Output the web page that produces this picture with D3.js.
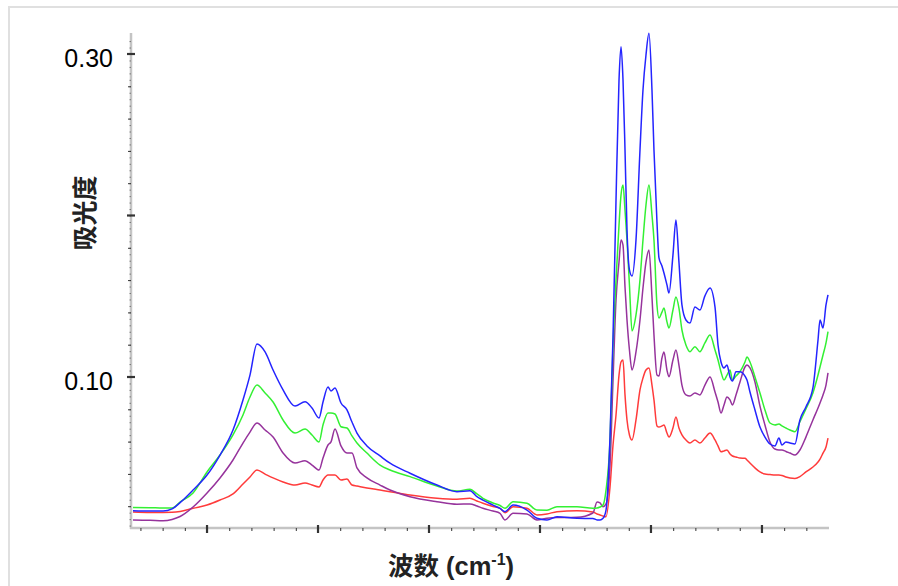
<!DOCTYPE html>
<html>
<head>
<meta charset="utf-8">
<script src="https://cdn.jsdelivr.net/npm/d3@7"></script>
<style>
  body { margin: 0; background: #fff; }
  svg { display: block; }
</style>
</head>
<body>
<div id="chart"></div>
<script>
const width = 898
const height = 586

// x position in major-tick units (axis has no labels)
const wave = [
  0.333, 0.486, 0.604, 0.685, 0.757, 0.874, 1.000, 1.117, 1.234, 1.324,
  1.387, 1.450, 1.523, 1.595, 1.685, 1.793, 1.883, 1.946, 2.009, 2.045,
  2.090, 2.117, 2.153, 2.207, 2.261, 2.306, 2.351, 2.441, 2.559, 2.649,
  2.829, 3.072, 3.252, 3.369, 3.432, 3.486, 3.577, 3.640, 3.685, 3.757,
  3.883, 3.973, 4.063, 4.153, 4.333, 4.477, 4.514, 4.541, 4.568, 4.595,
  4.631, 4.658, 4.685, 4.712, 4.730, 4.748, 4.766, 4.784, 4.806, 4.829,
  4.865, 4.901, 4.928, 4.955, 4.982, 5.009, 5.027, 5.054, 5.072, 5.099,
  5.117, 5.144, 5.162, 5.198, 5.225, 5.252, 5.279, 5.315, 5.351, 5.396,
  5.441, 5.486, 5.532, 5.577, 5.604, 5.631, 5.658, 5.685, 5.712, 5.734,
  5.766, 5.802, 5.847, 5.865, 5.892, 5.937, 5.982, 6.027, 6.072, 6.117,
  6.153, 6.180, 6.216, 6.252, 6.297, 6.342, 6.396, 6.459, 6.505, 6.523,
  6.550, 6.577, 6.595
]

const absBlue = [
  0.0172, 0.0170, 0.0170, 0.0183, 0.0222, 0.0300, 0.0393, 0.0517, 0.0672, 0.0858,
  0.1012, 0.1204, 0.1155, 0.1043, 0.0920, 0.0820, 0.0847, 0.0808, 0.0746, 0.0845,
  0.0938, 0.0913, 0.0932, 0.0839, 0.0796, 0.0721, 0.0653, 0.0573, 0.0511, 0.0466,
  0.0404, 0.0331, 0.0290, 0.0296, 0.0259, 0.0238, 0.0207, 0.0186, 0.0166, 0.0207,
  0.0176, 0.0125, 0.0115, 0.0135, 0.0125, 0.0124, 0.0115, 0.0115, 0.0125, 0.0176,
  0.0628, 0.1248, 0.2096, 0.2839, 0.3045, 0.2839, 0.2406, 0.1910, 0.1663, 0.1625,
  0.1848, 0.2406, 0.2777, 0.2994, 0.3128, 0.2777, 0.2406, 0.1960, 0.1737, 0.1687,
  0.1644, 0.1570, 0.1520, 0.1755, 0.1972, 0.1712, 0.1446, 0.1353, 0.1334, 0.1433,
  0.1415, 0.1502, 0.1551, 0.1433, 0.1198, 0.1093, 0.1056, 0.1074, 0.1000, 0.0975,
  0.1033, 0.1033, 0.1006, 0.0981, 0.0907, 0.0796, 0.0690, 0.0628, 0.0585, 0.0573,
  0.0622, 0.0579, 0.0598, 0.0591, 0.0585, 0.0734, 0.0814, 0.0932, 0.1229, 0.1353,
  0.1303, 0.1446, 0.1508
]

const absGreen = [
  0.0192, 0.0191, 0.0189, 0.0189, 0.0226, 0.0282, 0.0412, 0.0517, 0.0641, 0.0765,
  0.0876, 0.0950, 0.0901, 0.0845, 0.0734, 0.0653, 0.0678, 0.0641, 0.0598, 0.0703,
  0.0777, 0.0777, 0.0771, 0.0692, 0.0684, 0.0635, 0.0591, 0.0529, 0.0455, 0.0424,
  0.0383, 0.0325, 0.0294, 0.0305, 0.0276, 0.0249, 0.0220, 0.0204, 0.0187, 0.0228,
  0.0218, 0.0176, 0.0175, 0.0197, 0.0197, 0.0187, 0.0189, 0.0195, 0.0207, 0.0300,
  0.0610, 0.1198, 0.1601, 0.1941, 0.2127, 0.2189, 0.2034, 0.1848, 0.1570, 0.1285,
  0.1384, 0.1601, 0.1848, 0.2065, 0.2189, 0.2003, 0.1848, 0.1446, 0.1365, 0.1402,
  0.1427, 0.1341, 0.1303, 0.1415, 0.1495, 0.1427, 0.1291, 0.1198, 0.1157, 0.1188,
  0.1157, 0.1211, 0.1260, 0.1167, 0.1105, 0.1031, 0.0981, 0.1012, 0.1043, 0.0981,
  0.1006, 0.1033, 0.1093, 0.1124, 0.1093, 0.1000, 0.0901, 0.0796, 0.0715, 0.0703,
  0.0709, 0.0697, 0.0684, 0.0672, 0.0661, 0.0723, 0.0802, 0.0901, 0.1012, 0.1062,
  0.1136, 0.1211, 0.1281
]

const absPurple = [
  0.0115, 0.0113, 0.0110, 0.0118, 0.0136, 0.0195, 0.0282, 0.0375, 0.0486, 0.0591,
  0.0659, 0.0715, 0.0672, 0.0628, 0.0529, 0.0467, 0.0482, 0.0455, 0.0424, 0.0498,
  0.0579, 0.0598, 0.0678, 0.0573, 0.0529, 0.0529, 0.0437, 0.0375, 0.0331, 0.0300,
  0.0259, 0.0228, 0.0212, 0.0214, 0.0201, 0.0187, 0.0170, 0.0156, 0.0115, 0.0156,
  0.0152, 0.0115, 0.0125, 0.0130, 0.0131, 0.0158, 0.0226, 0.0220, 0.0197, 0.0214,
  0.0455, 0.0981, 0.1477, 0.1712, 0.1848, 0.1817, 0.1557, 0.1353, 0.1167, 0.1043,
  0.1155, 0.1353, 0.1551, 0.1712, 0.1786, 0.1495, 0.1260, 0.1012, 0.1006, 0.1118,
  0.1155, 0.1043, 0.1002, 0.1105, 0.1167, 0.1074, 0.0950, 0.0889, 0.0882, 0.0901,
  0.0889, 0.0950, 0.1000, 0.0907, 0.0845, 0.0777, 0.0827, 0.0876, 0.0858, 0.0827,
  0.0889, 0.0969, 0.1062, 0.1074, 0.1056, 0.0969, 0.0820, 0.0703, 0.0598, 0.0554,
  0.0548, 0.0548, 0.0539, 0.0529, 0.0517, 0.0548, 0.0628, 0.0734, 0.0808, 0.0839,
  0.0889, 0.0950, 0.1025
]

const absRed = [
  0.0164, 0.0161, 0.0161, 0.0162, 0.0167, 0.0187, 0.0207, 0.0238, 0.0276, 0.0337,
  0.0381, 0.0424, 0.0399, 0.0375, 0.0350, 0.0331, 0.0344, 0.0331, 0.0319, 0.0362,
  0.0393, 0.0393, 0.0393, 0.0362, 0.0368, 0.0331, 0.0325, 0.0313, 0.0300, 0.0290,
  0.0269, 0.0249, 0.0243, 0.0249, 0.0232, 0.0218, 0.0198, 0.0187, 0.0160, 0.0197,
  0.0187, 0.0146, 0.0152, 0.0166, 0.0172, 0.0164, 0.0152, 0.0146, 0.0139, 0.0135,
  0.0319, 0.0579, 0.0765, 0.1012, 0.1093, 0.1105, 0.0889, 0.0734, 0.0641, 0.0610,
  0.0734, 0.0920, 0.0994, 0.1043, 0.1056, 0.0950, 0.0858, 0.0697, 0.0690, 0.0697,
  0.0703, 0.0653, 0.0628, 0.0684, 0.0752, 0.0684, 0.0641, 0.0610, 0.0591, 0.0610,
  0.0591, 0.0622, 0.0653, 0.0610, 0.0573, 0.0537, 0.0542, 0.0548, 0.0523, 0.0511,
  0.0505, 0.0498, 0.0497, 0.0486, 0.0467, 0.0437, 0.0412, 0.0399, 0.0396, 0.0393,
  0.0393, 0.0390, 0.0381, 0.0375, 0.0372, 0.0383, 0.0412, 0.0443, 0.0474, 0.0492,
  0.0529, 0.0567, 0.0622
]

const xMajorTicks = [1, 2, 3, 4, 5, 6]
const yMajorTicks = [0.10, 0.20, 0.30]
const yTickLabels = [0.10, 0.30]
const xTitle = "波数 (cm"
const xTitleSup = "-1"
const yTitle = "吸光度"

const svg = d3.select("#chart").append("svg")
    .attr("width", width)
    .attr("height", height)

// outer frame
svg.append("rect")
    .attr("x", 9).attr("y", 7)
    .attr("width", width).attr("height", height)
    .attr("fill", "none")
    .attr("stroke", "#e0e0e0")
    .attr("stroke-width", 2)

const x = d3.scaleLinear().domain([0.315, 6.595]).range([131, 828])
const y = d3.scaleLinear().domain([0.0065, 0.313]).range([528, 33])

const xMinor = d3.range(0.4, 6.6, 0.2).map(d => +d.toFixed(1)).filter(d => !xMajorTicks.includes(d))
const yFine = d3.range(0.008, 0.312, 0.004).map(d => +d.toFixed(3))
const yMid = d3.range(0.02, 0.31, 0.02).map(d => +d.toFixed(2)).filter(d => !yMajorTicks.includes(d))

// axis lines
svg.append("line")
    .attr("x1", 131).attr("x2", 131).attr("y1", 33).attr("y2", 529)
    .attr("stroke", "#c4c4c4").attr("stroke-width", 2.5)
svg.append("line")
    .attr("x1", 130).attr("x2", 829).attr("y1", 528).attr("y2", 528)
    .attr("stroke", "#c4c4c4").attr("stroke-width", 2.5)

const gy = svg.append("g").attr("transform", "translate(131,0)")
gy.append("g")
    .call(d3.axisLeft(y).tickValues(yFine).tickSize(1.5).tickFormat(""))
    .call(g => g.select(".domain").remove())
    .selectAll("line").attr("stroke", "#666").attr("stroke-width", 0.8)
gy.append("g")
    .call(d3.axisLeft(y).tickValues(yMid).tickSize(3).tickFormat(""))
    .call(g => g.select(".domain").remove())
    .selectAll("line").attr("stroke", "#333").attr("stroke-width", 1)
gy.selectAll(".ymajor")
    .data(yMajorTicks)
    .join("line")
    .attr("class", "ymajor")
    .attr("x1", -4).attr("x2", 4)
    .attr("y1", d => y(d)).attr("y2", d => y(d))
    .attr("stroke", "#333").attr("stroke-width", 2.2)
gy.append("g")
    .call(d3.axisLeft(y).tickValues(yTickLabels).tickSize(0).tickPadding(18).tickFormat(d3.format(".2f")))
    .call(g => g.select(".domain").remove())
    .selectAll("text")
    .attr("dy", "0.5em")
    .attr("fill", "#000")
    .style("font-family", "'Liberation Sans', Arial, sans-serif")
    .style("font-size", "25px")

const gx = svg.append("g").attr("transform", "translate(0,528)")
gx.append("g")
    .call(d3.axisBottom(x).tickValues(xMinor).tickSize(3).tickFormat(""))
    .call(g => g.select(".domain").remove())
    .selectAll("line").attr("stroke", "#333").attr("stroke-width", 1)
gx.selectAll(".xmajor")
    .data(xMajorTicks)
    .join("line")
    .attr("class", "xmajor")
    .attr("x1", d => x(d)).attr("x2", d => x(d))
    .attr("y1", -3).attr("y2", 5)
    .attr("stroke", "#333").attr("stroke-width", 2.2)

// spectra
const line = d3.line()
    .x(d => x(d[0]))
    .y(d => y(d[1]))
    .curve(d3.curveMonotoneX)

const series = [
  {values: absRed, color: "#ff3b3b"},
  {values: absPurple, color: "#96339c"},
  {values: absGreen, color: "#33f033"},
  {values: absBlue, color: "#2424ff"}
]

svg.append("g").selectAll("path")
    .data(series)
    .join("path")
    .attr("d", d => line(d3.zip(wave, d.values)))
    .attr("fill", "none")
    .attr("stroke", d => d.color)
    .attr("stroke-width", 1.5)
    .attr("stroke-linejoin", "round")

// titles
const xt = svg.append("text")
    .attr("x", 451).attr("y", 575)
    .attr("text-anchor", "middle")
    .style("font-family", "'Liberation Sans', 'Noto Sans CJK SC', sans-serif")
    .style("font-weight", "bold")
    .style("font-size", "25.5px")
    .attr("fill", "#222")
xt.append("tspan").text(xTitle)
xt.append("tspan").text(xTitleSup).attr("dy", -10).style("font-size", "16px")
xt.append("tspan").text(")").attr("dy", 10)

svg.append("text")
    .attr("transform", "translate(94,213) rotate(-90)")
    .attr("text-anchor", "middle")
    .style("font-family", "'Noto Sans CJK SC', sans-serif")
    .style("font-weight", "bold")
    .style("font-size", "25px")
    .attr("fill", "#222")
    .text(yTitle)
</script>
</body>
</html>
